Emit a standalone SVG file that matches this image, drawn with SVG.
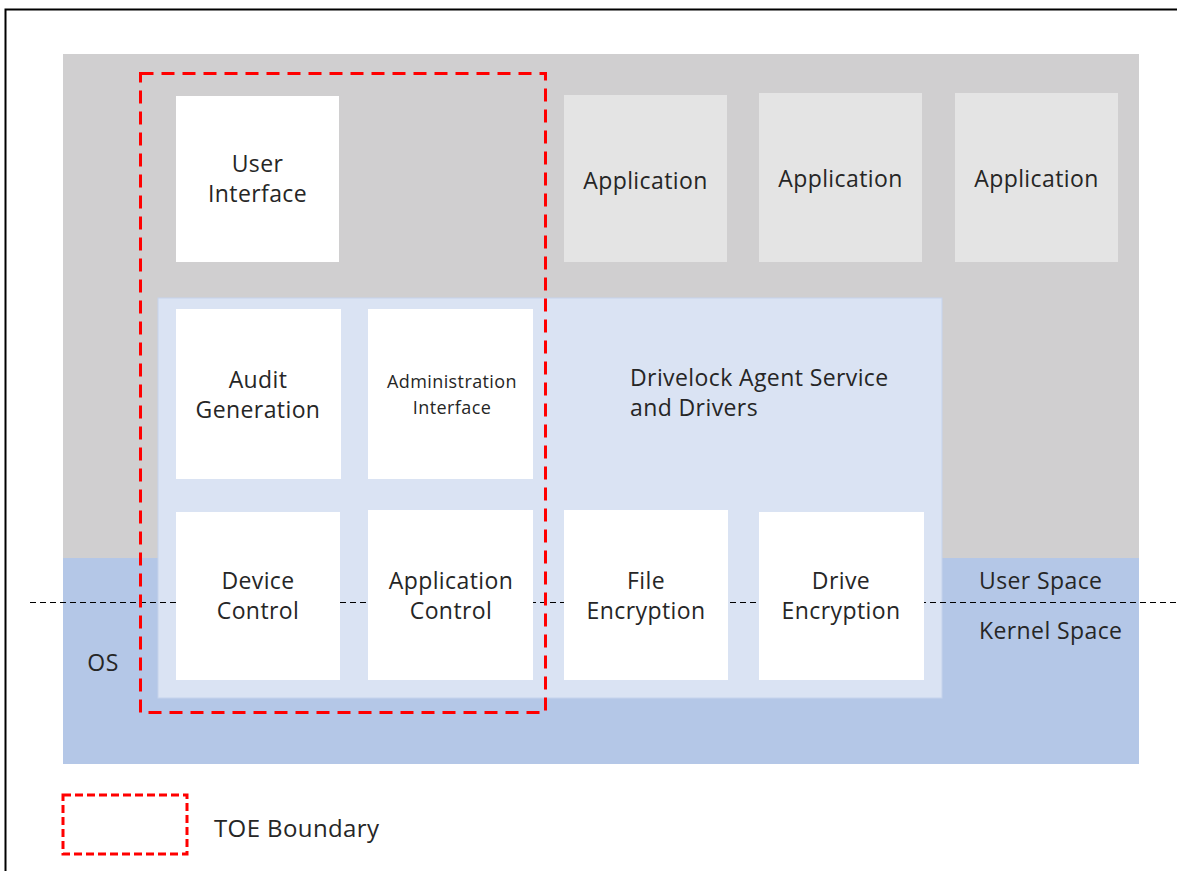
<svg xmlns="http://www.w3.org/2000/svg" width="1177" height="871" viewBox="0 0 1177 871">
<style>
text{font-family:"Open Sans","Liberation Sans",sans-serif;fill:#262626;font-size:23px;letter-spacing:0.4px}
.c{text-anchor:middle}
.wb{fill:#ffffff}
.app{fill:#e4e4e4}
.toe{fill:none;stroke:#ff0000;stroke-width:3;stroke-dasharray:13 8}
</style>
<rect width="1177" height="871" fill="#ffffff"/>
<path d="M5.5,871 V9.5 H1177" fill="none" stroke="#000" stroke-width="2"/>
<g id="user-space-area"><rect x="63" y="54" width="1076" height="505" fill="#d0cfd0"/></g>
<g id="os-area"><rect x="63" y="558" width="1076" height="206" fill="#b4c7e7"/>
<text x="103" y="671" class="c">OS</text></g>
<g id="agent-service"><rect x="158" y="298" width="784" height="400" fill="#dae3f3" stroke="#c5d3ec" stroke-width="1"/>
<text x="630" y="386">Drivelock Agent Service</text><text x="630" y="416">and Drivers</text></g>
<g id="connectors"><line x1="30" y1="602.5" x2="1177" y2="602.5" stroke="#000" stroke-width="1" stroke-dasharray="6 4"/></g>
<g id="user-interface"><rect class="wb" x="176" y="96" width="163" height="166"/><text class="c" x="257.5" y="172">User</text><text class="c" x="257.5" y="202">Interface</text></g>
<g id="app1"><rect class="app" x="564" y="95" width="163" height="167"/><text class="c" x="645.5" y="189">Application</text></g>
<g id="app2"><rect class="app" x="759" y="93" width="163" height="169"/><text class="c" x="840.5" y="187">Application</text></g>
<g id="app3"><rect class="app" x="955" y="93" width="163" height="169"/><text class="c" x="1036.5" y="187">Application</text></g>
<g id="audit-generation"><rect class="wb" x="176" y="309" width="165" height="170"/><text class="c" x="258" y="388">Audit</text><text class="c" x="258" y="418">Generation</text></g>
<g id="admin-interface"><rect class="wb" x="368" y="309" width="165" height="170"/><text class="c" x="452" y="388" style="font-size:18px">Administration</text><text class="c" x="452" y="414" style="font-size:18px">Interface</text></g>
<g id="device-control"><rect class="wb" x="176" y="512" width="164" height="168"/><text class="c" x="258" y="589">Device</text><text class="c" x="258" y="619">Control</text></g>
<g id="application-control"><rect class="wb" x="368" y="510" width="165" height="170"/><text class="c" x="451" y="589">Application</text><text class="c" x="451" y="619">Control</text></g>
<g id="file-encryption"><rect class="wb" x="564" y="510" width="164" height="170"/><text class="c" x="646" y="589">File</text><text class="c" x="646" y="619">Encryption</text></g>
<g id="drive-encryption"><rect class="wb" x="759" y="512" width="165" height="168"/><text class="c" x="841" y="589">Drive</text><text class="c" x="841" y="619">Encryption</text></g>
<g id="space-labels"><text x="979" y="589">User Space</text><text x="979" y="639">Kernel Space</text></g>
<g id="toe-boundary"><rect class="toe" x="140.5" y="73.5" width="405" height="639"/></g>
<g id="legend"><rect x="63" y="795" width="124" height="59" fill="none" stroke="#ff0000" stroke-width="3" stroke-dasharray="8 4"/><text x="214" y="837" style="font-size:24px">TOE Boundary</text></g>
</svg>
